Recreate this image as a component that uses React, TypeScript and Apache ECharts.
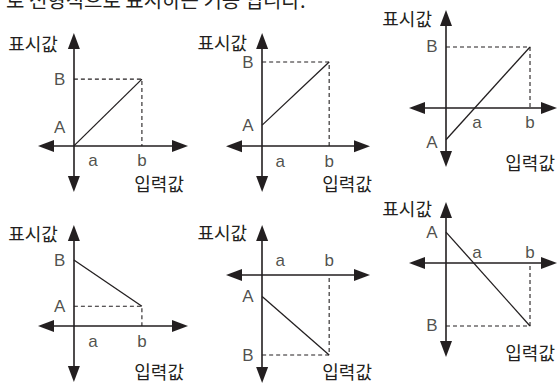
import React, { useEffect, useRef } from 'react';
import * as echarts from 'echarts';

// ---- data (values per diagram, in diagram units) ----
const INPUT_A = [28, 27, 37, 28, 27, 37]; // where label "a" sits on the input axis
const INPUT_B = [100, 100, 100, 100, 100, 100]; // input value b
const START_VALUES = [0, 25, -52, 100, -27, 49]; // display value at input 0
const END_VALUES = [100, 100, 100, 30, -100, -100]; // display value at input b
const LABEL_A_VALUES = [28, 25, -57, 30, -27, 49]; // where label "A" sits
const LABEL_B_VALUES = [100, 100, 100, 100, -100, -100]; // where label "B" sits
const X_MIN = [-41, -42, -34.5, -41, -42, -34.5];
const X_MAX = [156, 149, 122.6, 156, 149, 122.6];
const Y_MIN = [-57, -45, -83.6, -72.7, -125, -136.5];
const Y_MAX = [157, 125, 147.5, 141, 52.5, 84];
const X_TICK_TEXT = ['a', 'b'];
const Y_TICK_TEXT = ['A', 'B'];
const Y_NAME = '표시값';
const X_NAME = '입력값';
const HEADER_TEXT = '로 선형적으로 표시하는 기능 입니다.';

// ---- layout ----
const GRIDS = [
  [46, 41, 134, 143],
  [234, 41, 128, 143],
  [417, 18, 132, 141],
  [46, 233, 134, 141],
  [234, 233, 128, 142],
  [417, 210, 132, 139],
];
const X_LABELS_ABOVE = [false, false, false, false, true, true];
const X_LABEL_DIST = [6, 6, 6, 6, 6, 1];
const Y_NAME_GAP = [-2, -1, 0, 0, 1, 2];
const Y_NAME_PAD = [16, 15, 14, 16, 15, 14];
const X_NAME_GAP = [4, 10, 6, 4, 10, 6];
const X_NAME_DROP = [38, 38, 55, 46, 97, 90];

const INK = '#231f20';
const LATIN = '"Liberation Sans", Arial, sans-serif';
const HANGUL = '"Noto Sans CJK KR", "Noto Sans", sans-serif';

export default function App() {
  const ref = useRef<HTMLDivElement>(null);
  useEffect(() => {
    if (!ref.current) return;
    const chart = echarts.init(ref.current, null, { renderer: 'svg' });
    const idx = GRIDS.map((_, i) => i);
    const axisLine = {
      show: true,
      onZero: true,
      symbol: ['triangle', 'triangle'],
      symbolSize: [12, 16],
      lineStyle: { color: INK, width: 1.6 },
    };
    const labelText = {
      color: INK,
      fontSize: 17,
      fontFamily: LATIN,
      formatter: (p: any) => p.value[2],
    };
    const option: any = {
      animation: false,
      backgroundColor: '#ffffff',
      grid: GRIDS.map(([left, top, width, height]) => ({
        left, top, width, height, containLabel: false, outerBoundsMode: 'none',
      })),
      xAxis: idx.map((i) => ({
        type: 'value',
        gridIndex: i,
        min: X_MIN[i],
        max: X_MAX[i],
        splitLine: { show: false },
        axisTick: { show: false },
        axisLine,
        axisLabel: { show: false },
        name: X_NAME,
        nameLocation: 'end',
        nameGap: X_NAME_GAP[i],
        nameMoveOverlap: false,
        nameTextStyle: {
          color: INK,
          fontSize: 18,
          fontFamily: HANGUL,
          align: 'right',
          verticalAlign: 'top',
          padding: [X_NAME_DROP[i] - 10, 0, 0, 0],
        },
      })),
      yAxis: idx.map((i) => ({
        type: 'value',
        gridIndex: i,
        min: Y_MIN[i],
        max: Y_MAX[i],
        splitLine: { show: false },
        axisTick: { show: false },
        axisLine,
        axisLabel: { show: false },
        name: Y_NAME,
        nameLocation: 'end',
        nameGap: Y_NAME_GAP[i],
        nameMoveOverlap: false,
        nameTextStyle: {
          color: INK,
          fontSize: 18,
          fontFamily: HANGUL,
          align: 'right',
          verticalAlign: 'middle',
          padding: [0, Y_NAME_PAD[i], 0, 0],
        },
      })),
      series: idx.flatMap((i) => [
        {
          type: 'line',
          xAxisIndex: i,
          yAxisIndex: i,
          symbol: 'none',
          silent: true,
          data: [
            [0, END_VALUES[i]],
            [INPUT_B[i], END_VALUES[i]],
            [INPUT_B[i], 0],
          ],
          lineStyle: { color: INK, width: 1.1, type: [4, 3] },
          z: 1,
        },
        {
          type: 'line',
          xAxisIndex: i,
          yAxisIndex: i,
          symbol: 'none',
          silent: true,
          data: [
            [0, START_VALUES[i]],
            [INPUT_B[i], END_VALUES[i]],
          ],
          lineStyle: { color: INK, width: 1.3 },
          z: 2,
        },
        {
          type: 'scatter',
          xAxisIndex: i,
          yAxisIndex: i,
          silent: true,
          symbolSize: 1,
          itemStyle: { color: 'rgba(0,0,0,0)' },
          data: [
            [INPUT_A[i], 0, X_TICK_TEXT[0]],
            [INPUT_B[i], 0, X_TICK_TEXT[1]],
          ],
          label: {
            show: true,
            position: X_LABELS_ABOVE[i] ? 'top' : 'bottom',
            distance: X_LABEL_DIST[i],
            ...labelText,
          },
          z: 3,
        },
        {
          type: 'scatter',
          xAxisIndex: i,
          yAxisIndex: i,
          silent: true,
          symbolSize: 1,
          itemStyle: { color: 'rgba(0,0,0,0)' },
          data: [
            [0, LABEL_A_VALUES[i], Y_TICK_TEXT[0]],
            [0, LABEL_B_VALUES[i], Y_TICK_TEXT[1]],
          ],
          label: {
            show: true,
            position: 'left',
            distance: 8,
            ...labelText,
          },
          z: 3,
        },
      ]),
      graphic: [
        {
          type: 'text',
          x: 6,
          y: -1,
          silent: true,
          style: {
            text: HEADER_TEXT,
            fill: INK,
            font: `20px ${HANGUL}`,
            verticalAlign: 'middle',
          },
        },
      ],
    };
    chart.setOption(option);
    return () => chart.dispose();
  }, []);
  return (
    <div
      ref={ref}
      style={{ position: 'absolute', left: 0, top: 0, width: 557, height: 383 }}
    />
  );
}
